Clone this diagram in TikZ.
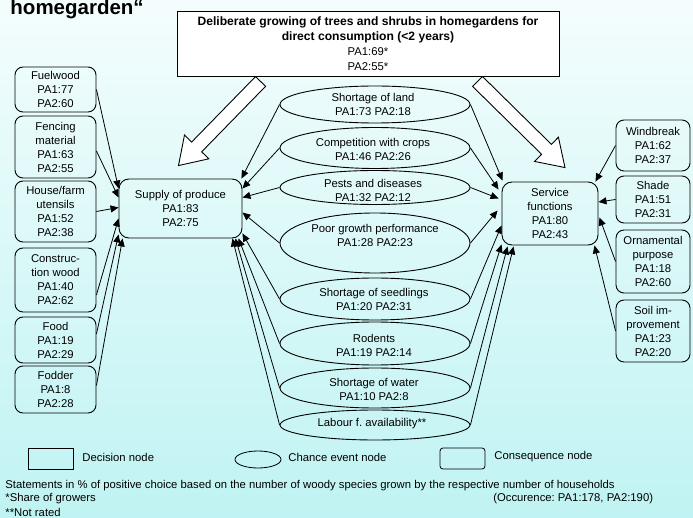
\documentclass[tikz,border=0pt]{standalone}
\usepackage{fontspec}
\setmainfont{Liberation Sans}
\usetikzlibrary{calc,shapes.geometric,arrows.meta}
\definecolor{bgtop}{RGB}{244,253,253}
\definecolor{bgbot}{RGB}{192,243,243}
\newcommand{\fs}{\fontsize{11.3}{14}\selectfont}
\newcommand{\fatarrow}[2]{%
  \coordinate (fah) at ($(#2)!26pt!(#1)$);
  \draw[fill=white, line join=miter, line width=0.9pt]
    ($(#1)!7pt!90:(#2)$) -- ($(fah)!7pt!90:(#2)$) -- ($(fah)!17pt!90:(#2)$) -- (#2)
    -- ($(fah)!17pt!-90:(#2)$) -- ($(fah)!7pt!-90:(#2)$) -- ($(#1)!7pt!-90:(#2)$) -- cycle;}
\frenchspacing
\begin{document}
\begin{tikzpicture}[x=1pt,y=-1pt, line width=0.9pt,
  cons/.style={draw, rounded corners=8pt, align=center, inner sep=1pt, font=\fs},
  chance/.style={draw, ellipse, inner sep=0pt, minimum width=190pt},
  txt/.style={align=center, inner sep=0pt, font=\fs},
  arr/.style={-{Triangle[length=8pt,width=7pt]}, line width=0.8pt},
  legbox/.style={draw, inner sep=0pt, line width=0.8pt}]
\path[top color=bgtop, bottom color=bgbot] (0,0) rectangle (693,518);
\useasboundingbox (0,0) rectangle (693,518);

\node[anchor=base west, inner sep=0pt, font=\fontsize{20.5}{24}\selectfont\bfseries] (title) at (10,15) {homegarden“};

% decision node
\node[draw, fill=white, minimum width=382pt, minimum height=65pt, align=center, inner sep=0pt,
      font=\fontsize{11.3}{15}\selectfont] (dec) at (368,43.5)
  {{\fontsize{12.1}{15}\selectfont\bfseries Deliberate growing of trees and shrubs in homegardens for}\\
   {\fontsize{12.1}{15}\selectfont\bfseries direct consumption (<2 years)}\\PA1:69*\\PA2:55*};

% left consequence boxes
\node[cons, minimum width=81pt, minimum height=45pt] (fuel) at (55.5,89.5) {Fuelwood\\PA1:77\\PA2:60};
\node[cons, minimum width=81pt, minimum height=62pt] (fence) at (55.5,147) {Fencing\\material\\PA1:63\\PA2:55};
\node[cons, minimum width=81pt, minimum height=61pt] (house) at (55.5,211.5) {House/farm\\utensils\\PA1:52\\PA2:38};
\node[cons, minimum width=81pt, minimum height=64pt] (constr) at (55.5,280) {Construc-\\tion wood\\PA1:40\\PA2:62};
\node[cons, minimum width=81pt, minimum height=46pt] (food) at (55.5,340) {Food\\PA1:19\\PA2:29};
\node[cons, minimum width=81pt, minimum height=47pt] (fodder) at (55.5,389.5) {Fodder\\PA1:8\\PA2:28};

% right consequence boxes
\node[cons, minimum width=74pt, minimum height=51pt] (wind) at (653,145.5) {Windbreak\\PA1:62\\PA2:37};
\node[cons, minimum width=74pt, minimum height=47pt] (shade) at (653,199.5) {Shade\\PA1:51\\PA2:31};
\node[cons, minimum width=74pt, minimum height=63pt] (orn) at (653,261.5) {Ornamental\\purpose\\PA1:18\\PA2:60};
\node[cons, minimum width=74pt, minimum height=62pt] (soil) at (653,331) {Soil im-\\provement\\PA1:23\\PA2:20};

% central consequence boxes
\node[cons, rounded corners=10pt, minimum width=123pt, minimum height=59pt] (sup) at (180.5,208.5) {Supply of produce\\PA1:83\\PA2:75};
\node[cons, rounded corners=10pt, minimum width=96pt, minimum height=63pt] (ser) at (550,213.5) {Service\\functions\\PA1:80\\PA2:43};

% chance event nodes
\node[chance, minimum height=37pt] (land) at (375,104.5) {};
\node[chance, minimum height=41pt] (comp) at (375,148) {};
\node[chance, minimum height=34pt] (pests) at (375,187.5) {};
\node[chance, minimum height=60pt] (poor) at (375,243) {};
\node[chance, minimum height=42pt] (seed) at (375,299) {};
\node[chance, minimum height=43pt] (rod) at (375,343.5) {};
\node[chance, minimum height=40pt] (water) at (375,388) {};
\node[chance, minimum height=30pt] (lab) at (375,425) {};

\node[txt] (tland) at (373,104) {Shortage of land\\PA1:73 PA2:18};
\node[txt] (tcomp) at (373,149.5) {Competition with crops\\PA1:46 PA2:26};
\node[txt] (tpests) at (373,190) {Pests and diseases\\PA1:32 PA2:12};
\node[txt] (tpoor) at (375,235.5) {Poor growth performance\\PA1:28 PA2:23};
\node[txt] (tseed) at (374,299) {Shortage of seedlings\\PA1:20 PA2:31};
\node[txt] (trod) at (374,345.5) {Rodents\\PA1:19 PA2:14};
\node[txt] (twater) at (374,389) {Shortage of water\\PA1:10 PA2:8};
\node[txt] (tlab) at (372,424) {Labour f. availability**};

% fat hollow arrows from decision node
\coordinate (fa1s) at ($(dec.south west)+(84,5)$);
\coordinate (fa1t) at ($(sup.north)+(-2,-13)$);
\coordinate (fa2s) at ($(dec.south west)+(301,5)$);
\coordinate (fa2t) at ($(ser.north)+(15,-14)$);
\fatarrow{fa1s}{fa1t}
\fatarrow{fa2s}{fa2t}

% left boxes -> supply
\draw[arr] (fuel.east) -- ($(sup.west)+(0,-20)$);
\draw[arr] ($(fence.east)+(0,4)$) -- ($(sup.west)+(0,-11)$);
\draw[arr] (house.east) -- ($(sup.west)+(0,-1)$);
\draw[arr] ($(constr.east)+(0,15)$) -- ($(sup.west)+(0,10)$);
\draw[arr] ($(food.east)+(0,-6)$) -- ($(sup.south west)+(0,-4)$);
\draw[arr] ($(fodder.east)+(0,-4)$) -- ($(sup.south west)+(4,0)$);

% chance events -> supply
\draw[arr] (land.west) -- ($(sup.north east)+(-1,0)$);
\draw[arr] (comp.west) -- ($(sup.east)+(0,-20)$);
\draw[arr] (pests.west) -- ($(sup.east)+(0,-11)$);
\draw[arr] (poor.west) -- ($(sup.east)+(0,4)$);
\draw[arr] (seed.west) -- ($(sup.south east)+(0,-5)$);
\draw[arr] (rod.west) -- ($(sup.south east)+(-4,0)$);
\draw[arr] (water.west) -- ($(sup.south east)+(-7,0)$);
\draw[arr] (lab.west) -- ($(sup.south east)+(-10,0)$);

% chance events -> service
\draw[arr] (land.east) -- ($(ser.north west)+(1,-1)$);
\draw[arr] (comp.east) -- ($(ser.west)+(-3,-24)$);
\draw[arr] (pests.east) -- ($(ser.west)+(-3,-15)$);
\draw[arr] (poor.east) -- ($(ser.west)+(-4,-3)$);
\draw[arr] (seed.east) -- ($(ser.west)+(0,12)$);
\draw[arr] (rod.east) -- ($(ser.south west)+(0,-1)$);
\draw[arr] (water.east) -- ($(ser.south west)+(6,1)$);
\draw[arr] (lab.east) -- ($(ser.south west)+(12,1)$);

% right boxes -> service
\draw[arr] (wind.west) -- ($(ser.north east)+(-3,0)$);
\draw[arr] (shade.west) -- ($(ser.east)+(0,-11.5)$);
\draw[arr] (orn.west) -- ($(ser.east)+(1,4)$);
\draw[arr] (soil.west) -- ($(ser.south east)+(-4,0)$);

% legend
\node[legbox, minimum width=45pt, minimum height=21pt] (leg1) at (50.5,458.5) {};
\node[legbox, ellipse, minimum width=46pt, minimum height=17pt] (leg2) at (258,459.5) {};
\node[legbox, rounded corners=3pt, minimum width=45pt, minimum height=21pt] (leg3) at (462.5,458.5) {};
\node[txt, anchor=west] (legt1) at (82,457) {Decision node};
\node[txt, anchor=west] (legt2) at (288,457) {Chance event node};
\node[txt, anchor=west] (legt3) at (494,457) {Consequence node};

% footer
\node[txt, anchor=west] (foot1) at (5,486) {Statements in \% of positive choice based on the number of woody species grown by the respective number of households};
\node[txt, anchor=west] (foot2) at (5,499) {*Share of growers};
\node[txt, anchor=east] (foot3) at (653.5,499) {(Occurence: PA1:178, PA2:190)};
\node[txt, anchor=west] (foot4) at (5,512) {**Not rated};
\end{tikzpicture}
\end{document}
